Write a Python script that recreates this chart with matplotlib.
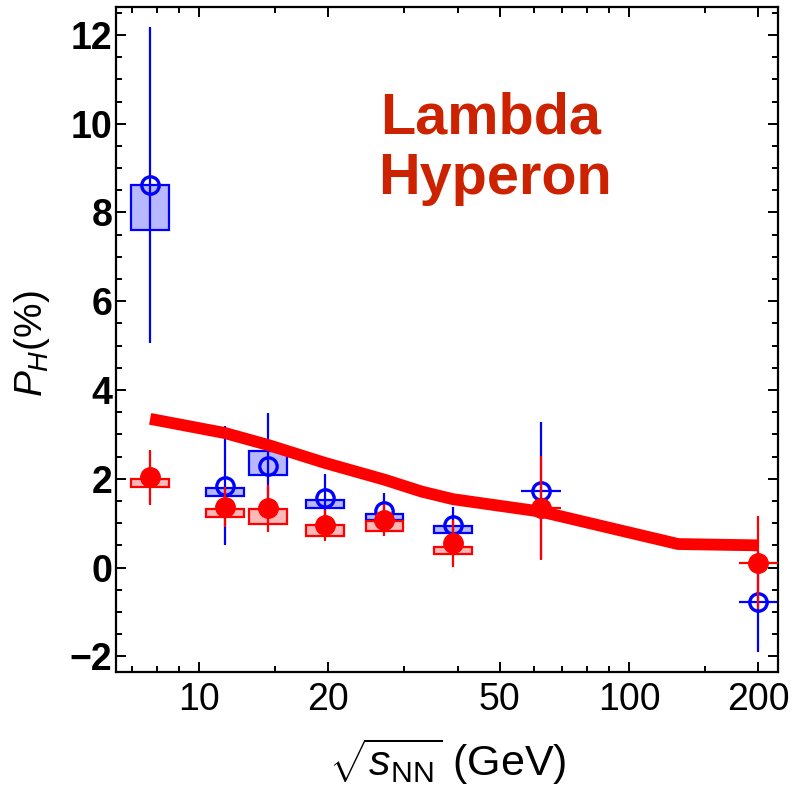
import numpy as np
import matplotlib.pyplot as plt
from matplotlib.ticker import FixedLocator, NullFormatter
from matplotlib.patches import Rectangle

plt.rcParams['font.family'] = ['Liberation Sans', 'DejaVu Sans']
plt.rcParams['mathtext.fontset'] = 'custom'
plt.rcParams['mathtext.rm'] = 'Liberation Sans'
plt.rcParams['mathtext.it'] = 'Liberation Sans:italic'
plt.rcParams['mathtext.bf'] = 'Liberation Sans:bold'

# collision energies (GeV)
energy = [7.7, 11.5, 14.5, 19.6, 27, 39, 62.4, 200]

# Lambda (red, filled)
lam = [2.03, 1.37, 1.34, 0.95, 1.07, 0.55, 1.34, 0.11]
lam_stat = [0.62, 0.45, 0.53, 0.35, 0.36, 0.53, 1.17, 1.05]
lam_sys_lo = [1.82, 1.14, 0.98, 0.72, 0.83, 0.31]
lam_sys_hi = [2.00, 1.31, 1.31, 0.95, 1.04, 0.47]

# anti-Lambda (blue, open)
alam = [8.62, 1.84, 2.29, 1.56, 1.28, 0.96, 1.73, -0.77]
alam_stat = [3.55, 1.34, 1.19, 0.54, 0.41, 0.41, 1.54, 1.14]
alam_sys_lo = [7.60, 1.62, 2.09, 1.35, 1.07, 0.77]
alam_sys_hi = [8.62, 1.79, 2.63, 1.52, 1.20, 0.94]

# model curve
theory_x = [7.7, 11.5, 14.5, 19.6, 27, 33, 39, 62.4, 130, 200]
theory_y = [3.35, 3.03, 2.76, 2.36, 1.98, 1.71, 1.54, 1.26, 0.53, 0.50]

xticks = [10, 20, 50, 100, 200]
xminor = [7, 8, 9, 15, 30, 40, 60, 70, 80, 90, 150]
yticks = [-2, 0, 2, 4, 6, 8, 10, 12]

BLUE = '#0000ff'
RED = '#ff0000'
box_f = 10 ** 0.044   # half width of sys boxes (log units)
bar_f = 10 ** 0.046   # half width of x bars for 62.4 and 200


def sys_boxes(ax, lo, hi, color, z):
    for e, a, b in zip(energy, lo, hi):
        ax.add_patch(Rectangle((e / box_f, a), e * box_f - e / box_f, b - a,
                               facecolor=color, alpha=0.28, edgecolor='none', zorder=z))
        ax.add_patch(Rectangle((e / box_f, a), e * box_f - e / box_f, b - a,
                               facecolor='none', edgecolor=color, lw=1.6, zorder=z))


def xbars(n_box):
    e = np.array(energy)
    lo = np.where(np.arange(len(e)) < n_box, 0, e - e / bar_f)
    hi = np.where(np.arange(len(e)) < n_box, 0, e * bar_f - e)
    return [lo, hi]


fig = plt.figure(figsize=(7.94, 7.93), dpi=100)
ax = fig.add_axes([0.1467, 0.1522, 0.8331, 0.839])
ax.set_xscale('log')

sys_boxes(ax, alam_sys_lo, alam_sys_hi, BLUE, 2)
ax.errorbar(energy, alam, yerr=alam_stat, xerr=xbars(len(alam_sys_lo)), fmt='o',
            mfc='none', mec=BLUE, mew=2.4, ms=12.5, ecolor=BLUE, elinewidth=1.6,
            capsize=0, zorder=2)

ax.plot(theory_x, theory_y, color=RED, lw=8.5, solid_capstyle='butt', zorder=3)

sys_boxes(ax, lam_sys_lo, lam_sys_hi, RED, 4)
ax.errorbar(energy, lam, yerr=lam_stat, xerr=xbars(len(lam_sys_lo)), fmt='o',
            mfc=RED, mec=RED, ms=14, ecolor=RED, elinewidth=1.6,
            capsize=0, zorder=4)

ax.set_xlim(6.43, 222)
ax.set_ylim(-2.36, 12.63)
ax.set_xticks(xticks)
ax.set_xticklabels([str(t) for t in xticks], fontsize=27)
ax.xaxis.set_minor_locator(FixedLocator(xminor))
ax.xaxis.set_minor_formatter(NullFormatter())
ax.set_yticks(yticks)
ax.set_yticklabels([str(t).replace('-', '\u2212') for t in yticks], fontsize=27,
                   fontweight='bold')
ax.yaxis.set_minor_locator(FixedLocator(np.arange(-2, 12.6, 0.5)))

ax.tick_params(which='both', direction='in', top=True, right=True, width=1.4)
ax.tick_params(which='major', length=7)
ax.tick_params(which='minor', length=4)
ax.tick_params(axis='x', pad=7)
ax.tick_params(axis='y', pad=3)
for s in ax.spines.values():
    s.set_linewidth(1.6)

fig.text(0.6184, 1 - 133 / 793, 'Lambda', ha='center', va='baseline',
         fontsize=41.5, fontweight='bold', color='#cc2200')
fig.text(0.624, 1 - 194 / 793, 'Hyperon', ha='center', va='baseline',
         fontsize=41.5, fontweight='bold', color='#cc2200')

fig.text(0.04, 0.567, r'$P_H$(%)', rotation=90, ha='center', va='center', fontsize=28)
fig.text(0.564, 0.039, r'$\sqrt{s_{\mathrm{NN}}}$ (GeV)', ha='center', va='center',
         fontsize=31)

fig.savefig('out.png', dpi=100)
